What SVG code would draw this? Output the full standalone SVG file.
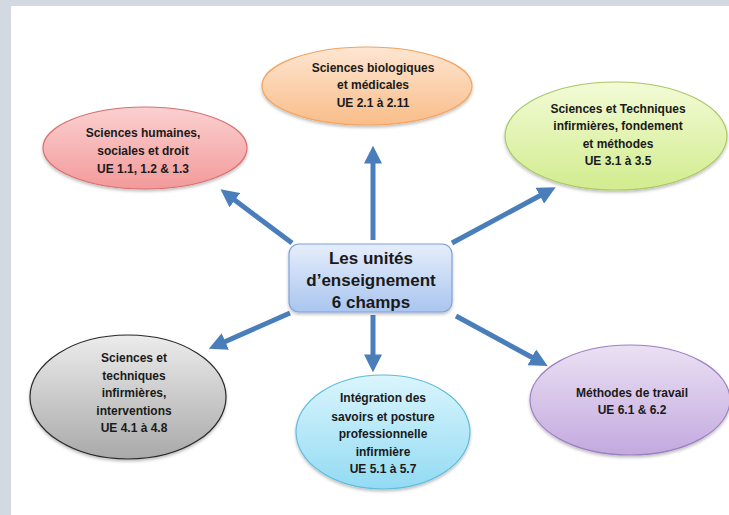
<svg xmlns="http://www.w3.org/2000/svg" width="729" height="515" viewBox="0 0 729 515">
<defs>
<linearGradient id="gO" x1="0" y1="0" x2="0" y2="1"><stop offset="0" stop-color="#fee6d2"/><stop offset="1" stop-color="#f9bd89"/></linearGradient>
<linearGradient id="gR" x1="0" y1="0" x2="0" y2="1"><stop offset="0" stop-color="#fbd0d0"/><stop offset="1" stop-color="#f39a9a"/></linearGradient>
<linearGradient id="gG" x1="0" y1="0" x2="0" y2="1"><stop offset="0" stop-color="#f2fbd6"/><stop offset="1" stop-color="#d2ec8e"/></linearGradient>
<linearGradient id="gB" x1="0" y1="0" x2="0" y2="1"><stop offset="0" stop-color="#e6eefb"/><stop offset="1" stop-color="#a9c5ef"/></linearGradient>
<linearGradient id="gK" x1="0" y1="0" x2="0" y2="1"><stop offset="0" stop-color="#ececec"/><stop offset="1" stop-color="#a9a9a9"/></linearGradient>
<linearGradient id="gC" x1="0" y1="0" x2="0" y2="1"><stop offset="0" stop-color="#daf5fd"/><stop offset="1" stop-color="#92dbf3"/></linearGradient>
<linearGradient id="gP" x1="0" y1="0" x2="0" y2="1"><stop offset="0" stop-color="#ebe0f3"/><stop offset="1" stop-color="#c3a9df"/></linearGradient>
<filter id="sh" x="-10%" y="-10%" width="120%" height="130%"><feDropShadow dx="0" dy="2" stdDeviation="1.5" flood-color="#000" flood-opacity="0.25"/></filter>
<marker id="ah" viewBox="0 0 10 10" refX="2" refY="5" markerWidth="3.6" markerHeight="3.6" orient="auto" markerUnits="strokeWidth"><path d="M0,0 L10,5 L0,10 Z" fill="#4a7ebb"/></marker>
<style>
.t{font-family:"Liberation Sans",Arial,sans-serif;font-weight:bold;font-size:12px;fill:#1a1a1a;text-anchor:middle}
.c{font-size:17px}
.a{stroke:#4a7ebb;stroke-width:5;fill:none;marker-end:url(#ah)}
</style>
</defs>
<rect x="0" y="0" width="729" height="515" fill="#d2d9e1"/>
<rect x="11" y="6" width="718" height="509" fill="#ffffff"/>
<g id="connectors">
<line class="a" x1="373" y1="240" x2="373" y2="160"/>
<line class="a" x1="292" y1="243" x2="232" y2="198"/>
<line class="a" x1="452" y1="243" x2="543" y2="194"/>
<line class="a" x1="290" y1="313" x2="222" y2="343"/>
<line class="a" x1="373" y1="315" x2="373" y2="358"/>
<line class="a" x1="456" y1="316" x2="535" y2="359"/>
</g>
<g id="n-bio">
<ellipse cx="367" cy="86" rx="105" ry="39" fill="url(#gO)" stroke="#f4a460" stroke-width="1.2" filter="url(#sh)"/>
<text class="t" x="373" y="72">Sciences biologiques</text>
<text class="t" x="373" y="89">et médicales</text>
<text class="t" x="373" y="107">UE 2.1 à 2.11</text>
</g>
<g id="n-hum">
<ellipse cx="145" cy="148" rx="102" ry="41" fill="url(#gR)" stroke="#d97070" stroke-width="1.2" filter="url(#sh)"/>
<text class="t" x="143" y="137">Sciences humaines,</text>
<text class="t" x="143" y="155">sociales et droit</text>
<text class="t" x="143" y="173">UE 1.1, 1.2 &amp; 1.3</text>
</g>
<g id="n-sti">
<ellipse cx="616" cy="136" rx="111" ry="54" fill="url(#gG)" stroke="#a9c866" stroke-width="1.2" filter="url(#sh)"/>
<text class="t" x="618" y="113">Sciences et Techniques</text>
<text class="t" x="618" y="130">infirmières, fondement</text>
<text class="t" x="618" y="148">et méthodes</text>
<text class="t" x="618" y="165">UE 3.1 à 3.5</text>
</g>
<g id="n-center">
<rect x="289" y="244" width="163" height="68" rx="10" fill="url(#gB)" stroke="#7fa2d8" stroke-width="1.2" filter="url(#sh)"/>
<text class="t c" x="371" y="264">Les unités</text>
<text class="t c" x="371" y="286">d’enseignement</text>
<text class="t c" x="371" y="308">6 champs</text>
</g>
<g id="n-int">
<ellipse cx="128" cy="397" rx="98" ry="62" fill="url(#gK)" stroke="#2a2a2a" stroke-width="1.2" filter="url(#sh)"/>
<text class="t" x="134" y="362">Sciences et</text>
<text class="t" x="134" y="380">techniques</text>
<text class="t" x="134" y="397">infirmières,</text>
<text class="t" x="134" y="415">interventions</text>
<text class="t" x="134" y="432">UE 4.1 à 4.8</text>
</g>
<g id="n-integ">
<ellipse cx="383" cy="432" rx="87" ry="57" fill="url(#gC)" stroke="#5fbcdb" stroke-width="1.2" filter="url(#sh)"/>
<text class="t" x="383" y="402">Intégration des</text>
<text class="t" x="383" y="421">savoirs et posture</text>
<text class="t" x="383" y="438">professionnelle</text>
<text class="t" x="383" y="456">infirmière</text>
<text class="t" x="383" y="473">UE 5.1 à 5.7</text>
</g>
<g id="n-meth">
<ellipse cx="630" cy="400" rx="100" ry="55" fill="url(#gP)" stroke="#9d80c3" stroke-width="1.2" filter="url(#sh)"/>
<text class="t" x="632" y="397">Méthodes de travail</text>
<text class="t" x="632" y="414">UE 6.1 &amp; 6.2</text>
</g>
</svg>
